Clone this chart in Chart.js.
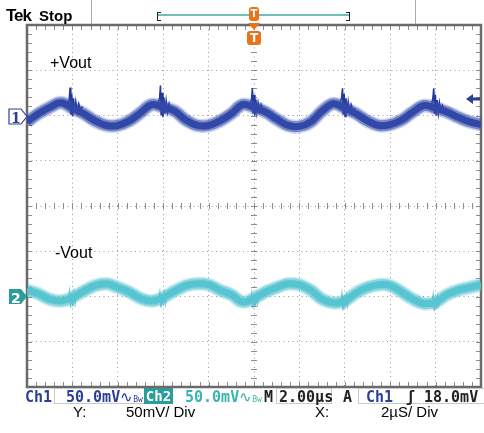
<!DOCTYPE html>
<html>
<head>
<meta charset="utf-8">
<script src="https://cdn.jsdelivr.net/npm/chart.js@4.4.1/dist/chart.umd.min.js"></script>
<style>
  body { margin: 0; background: #fff; width: 484px; height: 433px; overflow: hidden; position: relative; font-family: "Liberation Sans", Arial, sans-serif; }
  #scope { position: absolute; left: 0; top: 0; }
  .txt { position: absolute; white-space: nowrap; line-height: 1; }
  .mono { font-family: "DejaVu Sans Mono", monospace; font-weight: bold; font-size: 15px; }
  .box { position: absolute; top: 388px; height: 16px; border: 1px solid #c8c8c8; box-sizing: border-box; }
  .small { font-size: 8px; font-weight: normal; }
  .tmark { position: absolute; background: #e8731a; color: #fff; font: bold 12px "DejaVu Sans", sans-serif; text-align: center; border-radius: 3px; }
</style>
</head>
<body>
<canvas id="scope" width="484" height="433"></canvas>

<!-- top bar -->
<div class="txt" style="left:6px;top:7px;font-size:17px;font-weight:900;letter-spacing:-1px;">Tek</div>
<div class="txt" style="left:39px;top:8px;font-size:15px;font-weight:600;">Stop</div>
<div style="position:absolute;left:91px;top:0;width:1px;height:24px;background:#aaa;"></div>
<div style="position:absolute;left:415px;top:0;width:1px;height:24px;background:#aaa;"></div>
<div style="position:absolute;left:157px;top:12px;width:4px;height:9px;border:1px solid #222;border-right:none;box-sizing:border-box;"></div>
<div style="position:absolute;left:346px;top:12px;width:4px;height:9px;border:1px solid #222;border-left:none;box-sizing:border-box;"></div>
<div style="position:absolute;left:158px;top:14px;width:191px;height:2px;background:#6cc0b8;"></div>
<div class="tmark" style="left:249px;top:7px;width:10px;height:14px;line-height:14px;font-size:10px;">T</div>
<svg style="position:absolute;left:248px;top:23px" width="12" height="8"><polygon points="0,0 12,0 6,7" fill="#e8731a"/></svg>
<div class="tmark" style="left:247px;top:31px;width:14px;height:14px;line-height:14px;">T</div>

<!-- trace labels -->
<div class="txt" style="left:50px;top:55px;font-size:16px;">+Vout</div>
<div class="txt" style="left:55px;top:245px;font-size:16px;">-Vout</div>

<!-- channel markers -->
<svg style="position:absolute;left:8px;top:108px" width="20" height="18"><polygon points="1,1 13,1 19,8.5 13,16 1,16" fill="#fff" stroke="#2c3f95" stroke-width="1.2"/></svg>
<div class="txt" style="left:11px;top:110px;font:bold 14px 'DejaVu Serif',serif;color:#2c3f95;">1</div>
<svg style="position:absolute;left:8px;top:288px" width="20" height="18"><polygon points="1,1 13,1 19,8.5 13,16 1,16" fill="#2a9d9a"/></svg>
<div class="txt" style="left:11px;top:290px;font:bold 14px 'DejaVu Sans',sans-serif;color:#fff;">2</div>
<svg style="position:absolute;left:465px;top:93px" width="16" height="12"><polygon points="1,6 8,1 8,4.5 15,4.5 15,7.5 8,7.5 8,11" fill="#2c3f95"/></svg>

<!-- status bar -->
<div class="txt mono" style="left:25px;top:390px;color:#2c3f95;">Ch1</div>
<div class="box" style="left:54px;width:91px;"></div>
<div class="txt mono" style="left:66px;top:390px;color:#2c3f95;">50.0mV<span style="font-weight:normal">∿</span><span class="small">Bw</span></div>
<div class="txt mono" style="left:144px;top:388px;width:29px;height:16px;line-height:16px;background:#2a9d9a;color:#fff;text-align:center;font-size:14px;">Ch2</div>
<div class="txt mono" style="left:185px;top:390px;color:#3bb3b0;">50.0mV<span style="font-weight:normal">∿</span><span class="small">Bw</span></div>
<div class="txt mono" style="left:264px;top:390px;color:#222;">M</div>
<div class="box" style="left:276px;width:56px;"></div>
<div class="txt mono" style="left:279px;top:390px;color:#222;">2.00µs</div>
<div class="txt mono" style="left:343px;top:390px;color:#222;">A</div>
<div class="box" style="left:358px;width:126px;border-right:none;"></div>
<div class="txt mono" style="left:366px;top:390px;color:#2c3f95;">Ch1</div>
<div class="txt mono" style="left:406px;top:390px;color:#222;">ʃ</div>
<div class="txt mono" style="left:424px;top:390px;color:#222;">18.0mV</div>

<!-- caption -->
<div class="txt" style="left:73px;top:404px;font-size:15px;">Y:</div>
<div class="txt" style="left:126px;top:404px;font-size:15px;">50mV/ Div</div>
<div class="txt" style="left:315px;top:404px;font-size:15px;">X:</div>
<div class="txt" style="left:381px;top:404px;font-size:15px;">2µS/ Div</div>

<script>
// time axis, microseconds (2 us / div, 10 divs)
const timeUs = [0, 0.5, 1, 1.5, 2, 2.5, 3, 3.5, 4, 4.5, 5, 5.5, 6, 6.5, 7, 7.5, 8, 8.5, 9, 9.5, 10,
  10.5, 11, 11.5, 12, 12.5, 13, 13.5, 14, 14.5, 15, 15.5, 16, 16.5, 17, 17.5, 18, 18.5, 19, 19.5, 20];

// ripple in mV, relative to each channel's ground marker
const ch1mV = [-7, 2, 9, 14, 8, 2, -6, -11, -11, -6, 3, 12, 9, 5, -5, -11, -11, -6, 2, 12, 9,
  4, -4, -11, -12, -7, 5, 13, 8, 2, -6, -11, -10, -5, 4, 11, 8, 4, -2, -7, -10];
const ch2mV = [7, 3, -3, -5, -1, 6, 12, 14, 10, 5, -2, -5, -1, 6, 12, 14, 13, 7, 2, -6, -2,
  5, 10, 14, 13, 7, -3, -7, -5, 4, 10, 13, 12, 5, -3, -8, -6, 2, 7, 10, 13];

// switching spikes (null = gap between bursts)
const ch1SpikeT = [1.80, 1.86, 1.90, 1.93, 1.97, 2.01, 2.05, 2.10, 2.15, 2.21, 2.28, 2.36, 2.45, 2.46,
  5.78, 5.84, 5.88, 5.91, 5.95, 5.99, 6.03, 6.08, 6.13, 6.19, 6.26, 6.34, 6.43, 6.44,
  9.83, 9.89, 9.93, 9.96, 10.00, 10.04, 10.08, 10.13, 10.18, 10.24, 10.31, 10.39, 10.48, 10.49,
  13.80, 13.86, 13.90, 13.93, 13.97, 14.01, 14.05, 14.10, 14.15, 14.21, 14.28, 14.36, 14.45, 14.46,
  17.82, 17.88, 17.92, 17.95, 17.99, 18.03, 18.07, 18.12, 18.17, 18.23, 18.30, 18.38, 18.47];
const ch1SpikeMV = [13, 18, 31, 1, 24, -1, 19, 3, 15, 5, 13, 6, 10, null,
  13, 19, 33, 0, 25, -2, 20, 2, 16, 4, 13, 6, 9, null,
  13, 18, 30, 2, 23, 0, 18, 4, 14, 5, 12, 6, 8, null,
  14, 20, 30, 1, 24, -1, 19, 3, 15, 4, 12, 5, 8, null,
  12, 19, 30, 2, 23, 0, 17, 3, 14, 5, 11, 6, 8];
const ch2SpikeT = [1.82, 1.87, 1.92, 1.97, 2.02, 2.07, 2.12, 2.18, 2.25, 2.26,
  5.80, 5.85, 5.90, 5.95, 6.00, 6.05, 6.10, 6.16, 6.23, 6.24,
  9.85, 9.90, 9.95, 10.00, 10.05, 10.10, 10.15, 10.21, 10.28, 10.29,
  13.82, 13.87, 13.92, 13.97, 14.02, 14.07, 14.12, 14.18, 14.25, 14.26,
  17.84, 17.89, 17.94, 17.99, 18.04, 18.09, 18.14, 18.20, 18.27];
const ch2SpikeMV = [-4, 5, -12, 4, -11, 3, -8, 1, -3, null,
  -5, 4, -12, 3, -10, 2, -8, 0, -2, null,
  -6, 3, -13, 2, -11, 1, -8, -1, -2, null,
  -7, 2, -15, 1, -13, 0, -10, -2, -4, null,
  -8, 1, -16, 0, -14, -1, -10, -3, -5];

// channel positions on screen (mV, 50 mV/div)
const ch1Offset = 100;
const ch2Offset = -100;

const toPts = (ts, vs, off) => ts.map((t, i) => ({ x: t, y: vs[i] === null ? null : vs[i] + off }));

const ch1 = toPts(timeUs, ch1mV, ch1Offset);
const ch2 = toPts(timeUs, ch2mV, ch2Offset);
const ch1Spikes = toPts(ch1SpikeT, ch1SpikeMV, ch1Offset);
const ch2Spikes = toPts(ch2SpikeT, ch2SpikeMV, ch2Offset);

// frame + minor ticks like the scope graticule
const graticule = {
  id: 'graticule',
  beforeDatasetsDraw(chart) {
    const { ctx, chartArea: a, scales: { x, y } } = chart;
    const cx = x.getPixelForValue(10);
    const cy = y.getPixelForValue(0);
    ctx.save();
    ctx.strokeStyle = '#8c8c8c';
    ctx.lineWidth = 1;
    ctx.beginPath();
    for (let i = 0; i <= 50; i++) {
      const px = Math.round(x.getPixelForValue(i * 0.4)) + 0.5;
      ctx.moveTo(px, a.top); ctx.lineTo(px, a.top + 5);
      ctx.moveTo(px, a.bottom); ctx.lineTo(px, a.bottom - 5);
      ctx.moveTo(px, cy - 3); ctx.lineTo(px, cy + 3);
    }
    for (let i = 0; i <= 40; i++) {
      const py = Math.round(y.getPixelForValue(-200 + i * 10)) + 0.5;
      ctx.moveTo(a.left, py); ctx.lineTo(a.left + 5, py);
      ctx.moveTo(a.right, py); ctx.lineTo(a.right - 5, py);
      ctx.moveTo(cx - 3, py); ctx.lineTo(cx + 3, py);
    }
    ctx.stroke();
    ctx.strokeStyle = '#6a6a6a';
    ctx.lineWidth = 2.5;
    ctx.strokeRect(a.left, a.top, a.width, a.height);
    ctx.restore();
  }
};

new Chart(document.getElementById('scope'), {
  type: 'line',
  data: {
    datasets: [
      { data: ch1, borderColor: 'rgba(60,85,180,0.25)', borderWidth: 14, tension: 0.4 },
      { data: ch1, borderColor: 'rgba(50,72,170,0.55)', borderWidth: 11, tension: 0.4 },
      { data: ch1, borderColor: '#2b42a0', borderWidth: 7, tension: 0.4 },
      { data: ch1Spikes, borderColor: '#25399a', borderWidth: 1.6, tension: 0, spanGaps: false },
      { data: ch2, borderColor: 'rgba(100,200,212,0.3)', borderWidth: 14, tension: 0.4 },
      { data: ch2, borderColor: 'rgba(85,196,208,0.6)', borderWidth: 11, tension: 0.4 },
      { data: ch2, borderColor: '#4ec3cf', borderWidth: 7, tension: 0.4 },
      { data: ch2Spikes, borderColor: 'rgba(60,180,195,0.8)', borderWidth: 1.4, tension: 0, spanGaps: false }
    ]
  },
  options: {
    responsive: false,
    animation: false,
    layout: { padding: { left: 27, top: 25, right: 3, bottom: 46 } },
    elements: { point: { radius: 0 } },
    plugins: { legend: { display: false }, tooltip: { enabled: false } },
    scales: {
      x: {
        type: 'linear', min: 0, max: 20,
        ticks: { stepSize: 2, display: false },
        grid: { color: '#9a9a9a', lineWidth: 1, drawTicks: false },
        border: { display: false, dash: [1, 3.5] }
      },
      y: {
        type: 'linear', min: -200, max: 200,
        ticks: { stepSize: 50, display: false },
        grid: { color: '#9a9a9a', lineWidth: 1, drawTicks: false },
        border: { display: false, dash: [1, 3.5] }
      }
    }
  },
  plugins: [graticule]
});
</script>
</body>
</html>
